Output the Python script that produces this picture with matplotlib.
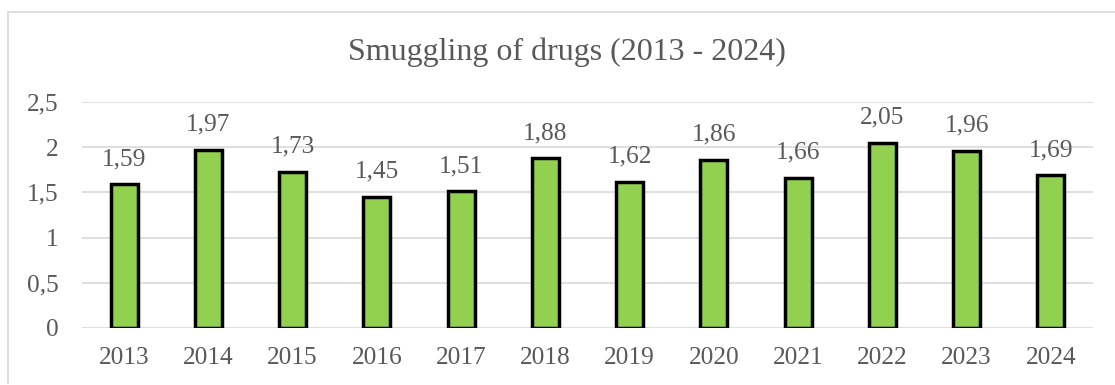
import matplotlib
matplotlib.use("Agg")
import matplotlib.pyplot as plt
from matplotlib.lines import Line2D

years = ["2013", "2014", "2015", "2016", "2017", "2018",
         "2019", "2020", "2021", "2022", "2023", "2024"]
values = [1.59, 1.97, 1.73, 1.45, 1.51, 1.88, 1.62, 1.86, 1.66, 2.05, 1.96, 1.69]
yticks = [0, 0.5, 1, 1.5, 2, 2.5]
ytick_labels = ["0", "0,5", "1", "1,5", "2", "2,5"]
title = "Smuggling of drugs (2013 - 2024)"

W, H = 1115, 385
text_color = "#595959"
plt.rcParams["font.family"] = ["Liberation Serif", "DejaVu Serif"]

fig = plt.figure(figsize=(W / 100, H / 100), dpi=100)
fig.patch.set_facecolor("white")

# outer chart frame (left and top edges visible)
frame_kw = dict(transform=fig.transFigure, color="#d9d9d9", linewidth=1.2)
fig.add_artist(Line2D([8 / W, 8 / W], [1 - 12 / H, 1 - 383 / H], **frame_kw))
fig.add_artist(Line2D([8 / W, 1.0], [1 - 12 / H, 1 - 12 / H], **frame_kw))

left, right = 82 / W, 1093 / W
bottom, top = 1 - 328 / H, 1 - 102 / H
ax = fig.add_axes([left, bottom, right - left, top - bottom])

x = range(len(years))
ax.bar(x, values, width=0.32, color="#92D050", edgecolor="black",
       linewidth=2.5, zorder=3)

for xi, v in zip(x, values):
    ax.annotate(f"{v:.2f}".replace(".", ","), (xi, v), xytext=(0, 18),
                textcoords="offset points", ha="center", va="center",
                fontsize=18.3, color=text_color, zorder=4)

ax.set_xlim(-0.5, len(years) - 0.5)
ax.set_ylim(0, 2.5)
ax.set_yticks(yticks)
ax.set_yticklabels(ytick_labels)
ax.set_xticks(list(x))
ax.set_xticklabels(years)
ax.tick_params(axis="both", length=0, labelsize=18.3, labelcolor=text_color)
ax.tick_params(axis="y", pad=17)
ax.tick_params(axis="x", pad=14)
ax.grid(axis="y", color="#d9d9d9", linewidth=1.2, zorder=0)
for s in ax.spines.values():
    s.set_visible(False)

fig.text(567 / W, 1 - 52 / H, title, ha="center", va="center",
         fontsize=23, color=text_color)

fig.savefig("out.png", dpi=100, facecolor="white")
